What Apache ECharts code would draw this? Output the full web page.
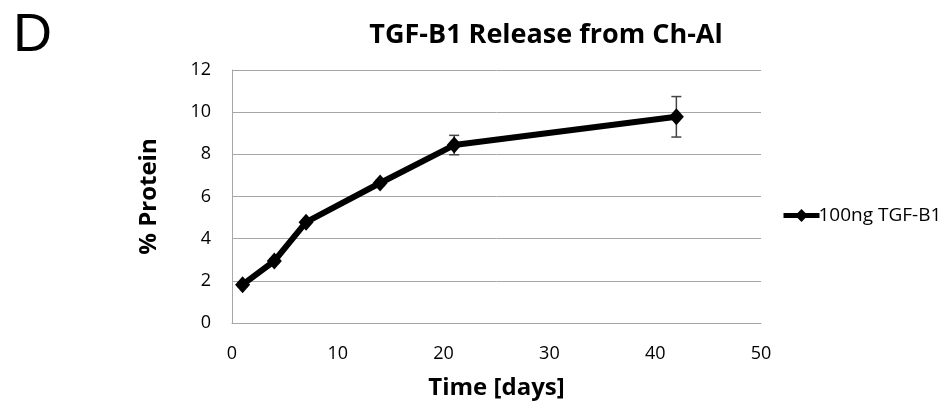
<!DOCTYPE html>
<html><head><meta charset="utf-8">
<script src="https://cdn.jsdelivr.net/npm/echarts@6/dist/echarts.min.js"></script>
<style>html,body{margin:0;padding:0;background:#fff}#c{width:943px;height:406px}</style>
</head><body><div id="c"></div>
<script>
const days = [1, 4, 7, 14, 21, 42];
const protein = [1.82, 2.94, 4.78, 6.64, 8.44, 9.78];
const errors = [0.1, 0.1, 0.1, 0.12, 0.46, 0.96];
const seriesName = '100ng TGF-B1';
const titleText = 'TGF-B1 Release from Ch-Al';
const panelLabel = 'D';

const chart = echarts.init(document.getElementById('c'));
const FONT = '"Open Sans", "Noto Sans", sans-serif';
const lineData = days.map((d, i) => [d, protein[i]]);
const errData = days.map((d, i) => [d, protein[i] - errors[i], protein[i] + errors[i]]);

chart.setOption({
  animation: false,
  backgroundColor: '#fff',
  title: [
    {text: titleText, left: 541, top: 17, textAlign: 'center',
     textStyle: {fontFamily: FONT, fontWeight: 'bold', fontSize: 27, color: '#000'}},
    {text: panelLabel, left: 8, top: 4,
     textStyle: {fontFamily: 'Liberation Sans, Arial, sans-serif', fontWeight: 'normal', fontSize: 54, color: '#000'}}
  ],
  grid: {left: 232, right: 182, top: 70, bottom: 83, containLabel: false},
  legend: {
    data: [{name: seriesName}], left: 776, top: 201, itemWidth: 36, itemHeight: 16, itemGap: 4,
    lineStyle: {width: 5, color: '#000'},
    textStyle: {fontFamily: FONT, fontSize: 19, color: '#000', padding: [0, 0, 0, -6]}
  },
  xAxis: {
    type: 'value', min: 0, max: 50, interval: 10,
    name: 'Time [days]', nameLocation: 'middle', nameGap: 53,
    nameTextStyle: {fontFamily: FONT, fontWeight: 'bold', fontSize: 24, color: '#000'},
    axisLine: {show: true, lineStyle: {color: '#a6a6a6', width: 1}},
    axisTick: {show: false},
    splitLine: {show: false},
    axisLabel: {fontFamily: FONT, fontSize: 18, color: '#000', margin: 22}
  },
  yAxis: {
    type: 'value', min: 0, max: 12, interval: 2,
    name: '% Protein', nameLocation: 'middle', nameGap: 71, nameRotate: 90,
    nameTextStyle: {fontFamily: FONT, fontWeight: 'bold', fontSize: 24, color: '#000'},
    axisLine: {show: true, lineStyle: {color: '#a6a6a6', width: 1}},
    axisTick: {show: false},
    splitLine: {show: true, lineStyle: {color: '#a6a6a6', width: 1}},
    axisLabel: {fontFamily: FONT, fontSize: 18, color: '#000', margin: 21}
  },
  series: [
    {
      name: seriesName, type: 'line', data: lineData,
      symbol: 'diamond', symbolSize: [15, 17], showSymbol: true,
      lineStyle: {color: '#000', width: 6},
      itemStyle: {color: '#000'},
      z: 3
    },
    {
      name: 'err', type: 'custom', data: errData, z: 2,
      renderItem: function (params, api) {
        const x = api.value(0);
        const lo = api.coord([x, api.value(1)]);
        const hi = api.coord([x, api.value(2)]);
        const hw = 5;
        const st = {stroke: '#444', lineWidth: 1.5};
        return {type: 'group', children: [
          {type: 'line', shape: {x1: lo[0], y1: lo[1], x2: hi[0], y2: hi[1]}, style: st},
          {type: 'line', shape: {x1: lo[0]-hw, y1: lo[1], x2: lo[0]+hw, y2: lo[1]}, style: st},
          {type: 'line', shape: {x1: hi[0]-hw, y1: hi[1], x2: hi[0]+hw, y2: hi[1]}, style: st}
        ]};
      }
    }
  ]
});
</script></body></html>
